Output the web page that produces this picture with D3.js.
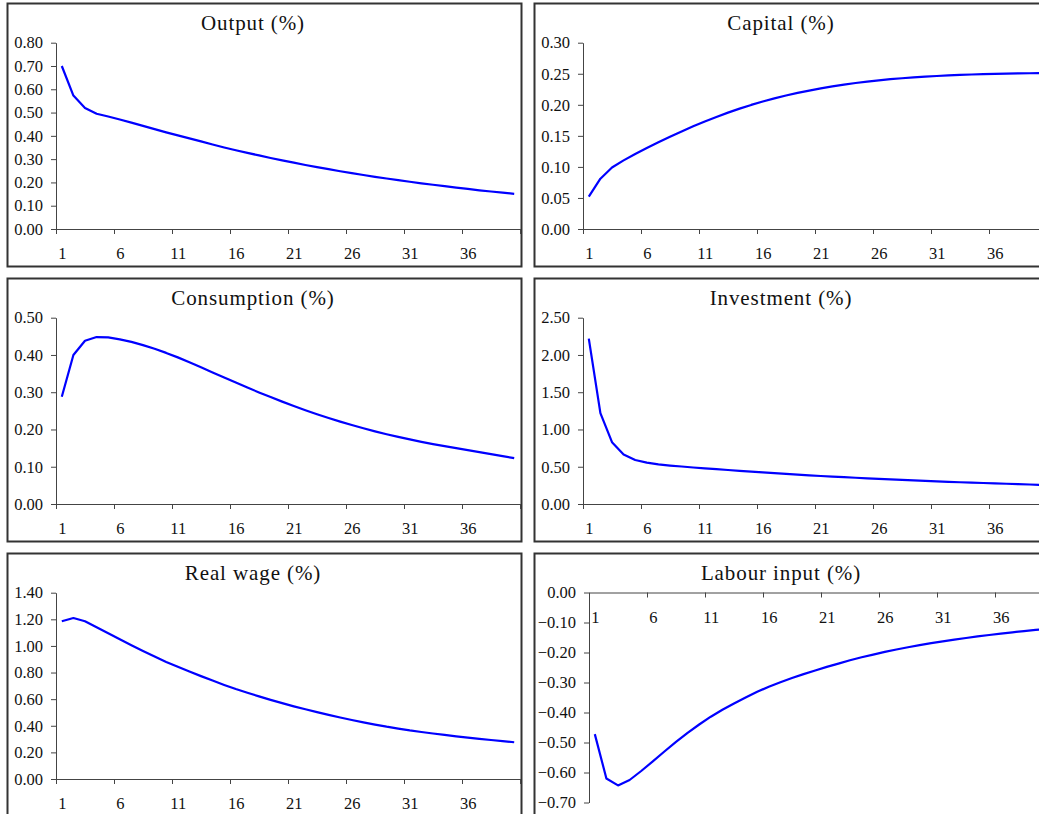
<!DOCTYPE html>
<html>
<head>
<meta charset="utf-8">
<script src="https://cdn.jsdelivr.net/npm/d3@7"></script>
<style>
  html, body { margin: 0; padding: 0; background: #fff; overflow: hidden; }
  svg { display: block; }
  text { font-family: "Liberation Serif", "Times New Roman", serif; fill: #111; }
</style>
</head>
<body>
<script>
// ---- Data ----
const periods = d3.range(1, 41);
const xTickLabels = [1, 6, 11, 16, 21, 26, 31, 36];

const output = [0.700,0.573,0.520,0.495,0.483,0.470,0.457,0.443,0.429,0.415,
                0.402,0.389,0.376,0.363,0.350,0.338,0.327,0.316,0.305,0.295,
                0.285,0.275,0.266,0.257,0.248,0.240,0.232,0.224,0.217,0.210,
                0.203,0.196,0.190,0.184,0.178,0.172,0.166,0.161,0.156,0.151];

const capital = [0.0520,0.0810,0.0990,0.1105,0.1208,0.1303,0.1396,0.1486,0.1572,0.1654,
                 0.1732,0.1805,0.1874,0.1938,0.1998,0.2053,0.2103,0.2149,0.2191,0.2229,
                 0.2264,0.2296,0.2325,0.2351,0.2374,0.2394,0.2412,0.2428,0.2442,0.2454,
                 0.2464,0.2473,0.2481,0.2488,0.2494,0.2499,0.2503,0.2506,0.2508,0.2509];

const consumption = [0.288,0.400,0.438,0.448,0.447,0.442,0.435,0.4265,0.4165,0.4055,
                     0.3935,0.3805,0.3670,0.3532,0.3394,0.3258,0.3125,0.2995,0.2869,0.2747,
                     0.2629,0.2517,0.2410,0.2308,0.2211,0.2119,0.2032,0.1950,0.1873,0.1801,
                     0.1733,0.1669,0.1609,0.1552,0.1498,0.1446,0.1392,0.1338,0.1284,0.1230];

const investment = [2.22,1.22,0.83,0.665,0.59,0.555,0.532,0.516,0.503,0.490,
                    0.478,0.467,0.456,0.445,0.435,0.425,0.415,0.405,0.395,0.385,
                    0.376,0.368,0.360,0.352,0.344,0.337,0.330,0.323,0.316,0.310,
                    0.304,0.298,0.292,0.287,0.282,0.277,0.272,0.267,0.262,0.257];

const realWage = [1.185,1.210,1.185,1.140,1.095,1.050,1.005,0.962,0.920,0.880,
                  0.843,0.808,0.773,0.740,0.707,0.676,0.648,0.621,0.595,0.570,
                  0.546,0.524,0.503,0.482,0.462,0.443,0.426,0.409,0.393,0.379,
                  0.365,0.353,0.342,0.331,0.321,0.311,0.302,0.293,0.284,0.276];

const labourInput = [-0.472,-0.620,-0.643,-0.625,-0.595,-0.563,-0.530,-0.498,-0.468,-0.440,
                     -0.414,-0.391,-0.370,-0.350,-0.331,-0.314,-0.299,-0.285,-0.272,-0.260,
                     -0.248,-0.237,-0.226,-0.216,-0.207,-0.198,-0.190,-0.1825,-0.1755,-0.169,
                     -0.163,-0.1572,-0.1517,-0.1465,-0.1416,-0.137,-0.1327,-0.1286,-0.1247,-0.121];

const titles = ["Output (%)", "Capital (%)", "Consumption (%)", "Investment (%)", "Real wage (%)", "Labour input (%)"];
const seriesList = [output, capital, consumption, investment, realWage, labourInput];
const yDomains = [[0, 0.8], [0, 0.3], [0, 0.5], [0, 2.5], [0, 1.4], [-0.7, 0]];
const yTickValues = [
  [0, 0.1, 0.2, 0.3, 0.4, 0.5, 0.6, 0.7, 0.8],
  [0, 0.05, 0.1, 0.15, 0.2, 0.25, 0.3],
  [0, 0.1, 0.2, 0.3, 0.4, 0.5],
  [0, 0.5, 1.0, 1.5, 2.0, 2.5],
  [0, 0.2, 0.4, 0.6, 0.8, 1.0, 1.2, 1.4],
  [0, -0.1, -0.2, -0.3, -0.4, -0.5, -0.6, -0.7]
];

// ---- Layout ----
const W = 1039, H = 814;
const svg = d3.select("body").append("svg").attr("width", W).attr("height", H);

const rowTops = [3, 278, 553];
const colLefts = [7.5, 534.5];
const panelW = [514, 520];
const panelH = 263;

// x tick marks at category boundaries
const tickMarkVals = [0.5, 5.5, 10.5, 15.5, 20.5, 25.5, 30.5, 35.5, 40.5];

seriesList.forEach((series, i) => {
  const col = i % 2, row = Math.floor(i / 2);
  const top = rowTops[row];
  const left = colLefts[col];
  const isLabour = i === 5;

  const g = svg.append("g");

  // panel border
  g.append("rect")
    .attr("x", left).attr("y", top + 0.5)
    .attr("width", panelW[col]).attr("height", panelH)
    .attr("fill", "none").attr("stroke", "#333").attr("stroke-width", 2);

  // title
  g.append("text")
    .attr("x", col === 0 ? 253 : 781)
    .attr("y", top + 27)
    .attr("text-anchor", "middle")
    .style("font-size", "21px")
    .style("letter-spacing", "0.9px")
    .text(titles[i]);

  const axisX = col === 0 ? 56 : (isLabour ? 589 : 583);
  const plotW = 464;
  const yTop = isLabour ? top + 39.5 : top + 39.7;
  const yBot = isLabour ? top + 249.5 : top + 226;

  const x = d3.scaleLinear().domain([0.5, 40.5]).range([axisX, axisX + plotW]);
  const y = d3.scaleLinear().domain(yDomains[i]).range([yBot, yTop]);

  const x0 = isLabour ? y(0) : y(yDomains[i][0]);

  // y axis
  const ya = g.append("g")
    .attr("transform", `translate(${axisX},0)`)
    .call(d3.axisLeft(y).tickValues(yTickValues[i]).tickSize(5).tickSizeOuter(0)
      .tickPadding(8).tickFormat(d3.format(".2f")));
  ya.selectAll("path, line").attr("stroke", "#444");
  ya.selectAll("text").style("font-size", "16.5px").style("font-family", "Liberation Serif, serif").attr("fill", "#111");

  // x axis: tick marks
  const xa = g.append("g")
    .attr("transform", `translate(0,${x0})`)
    .call(d3.axisBottom(x).tickValues(tickMarkVals).tickSize(5).tickSizeOuter(0).tickFormat(""));
  xa.selectAll("path, line").attr("stroke", "#444");

  // x axis: labels at category centres
  const xl = g.append("g")
    .attr("transform", `translate(0,${x0})`)
    .call(d3.axisBottom(x).tickValues(xTickLabels).tickSize(0).tickPadding(18.5).tickFormat(d3.format("d")));
  xl.select(".domain").remove();
  xl.selectAll("text").style("font-size", "16.5px").style("font-family", "Liberation Serif, serif").attr("fill", "#111");

  // line
  const line = d3.line()
    .x((d, k) => x(periods[k]))
    .y(d => y(d));
  g.append("path")
    .datum(series)
    .attr("d", line)
    .attr("fill", "none")
    .attr("stroke", "#0000ff")
    .attr("stroke-width", 2.2)
    .attr("stroke-linejoin", "round");
});
</script>
</body>
</html>
